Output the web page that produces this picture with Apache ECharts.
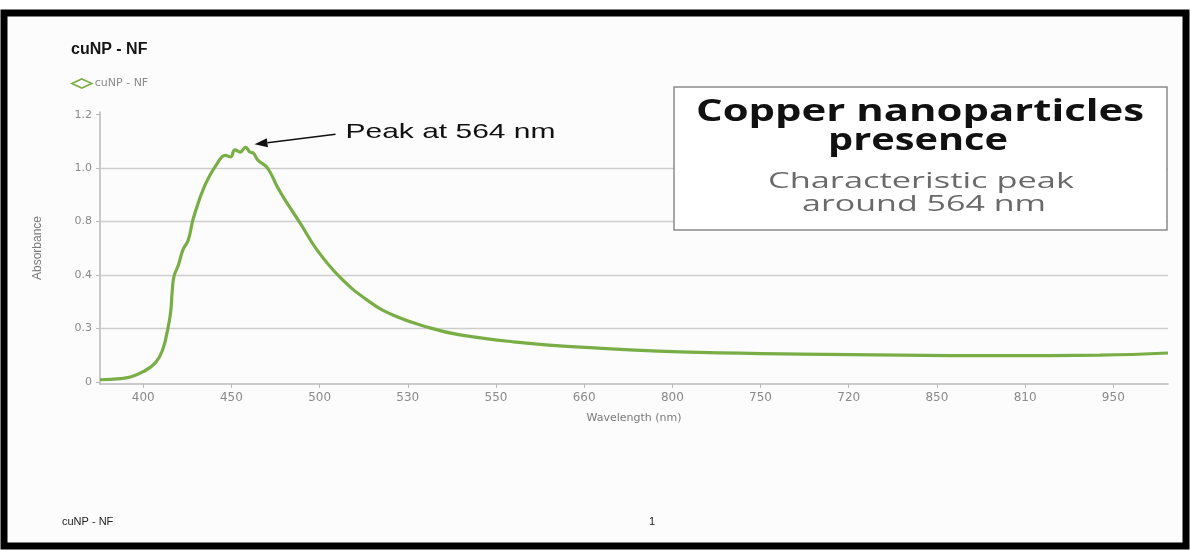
<!DOCTYPE html>
<html>
<head>
<meta charset="utf-8">
<title>cuNP - NF</title>
<script src="https://cdn.jsdelivr.net/npm/echarts@6/dist/echarts.min.js"></script>
<style>
  html, body { margin: 0; padding: 0; background: #ffffff; }
  #chart { width: 1190px; height: 550px; }
</style>
</head>
<body>
<div id="chart"></div>
<script>
// Wavelength tick labels, one per labelled slot on the x axis
const xLabels = ['400', '450', '500', '530', '550', '660', '800', '750', '720', '850', '810', '950'];
// Absorbance tick labels, one per gridline step on the y axis
const yLabels = ['0', '0.3', '0.4', '0.8', '1.0', '1.2'];

// Spectrum samples: position along the x slots and height in gridline steps
const samplePos = [
  -0.49, -0.26, -0.15, 0.00, 0.14, 0.22, 0.27, 0.31, 0.33, 0.35,
  0.40, 0.45, 0.51, 0.57, 0.70, 0.84, 0.93, 0.99, 1.04, 1.10,
  1.16, 1.21, 1.25, 1.30, 1.41, 1.52, 1.61, 1.78, 1.97, 2.23,
  2.54, 2.83, 3.25, 3.59, 4.20, 4.96, 6.09, 7.45, 8.58, 9.72,
  10.85, 11.62
];
const sampleLevel = [
  0.04, 0.06, 0.09, 0.19, 0.36, 0.60, 0.92, 1.29, 1.72, 1.98,
  2.19, 2.47, 2.65, 3.07, 3.68, 4.09, 4.24, 4.21, 4.34, 4.30,
  4.39, 4.30, 4.28, 4.15, 4.00, 3.65, 3.40, 2.97, 2.47, 1.96,
  1.53, 1.25, 1.01, 0.88, 0.75, 0.65, 0.56, 0.52, 0.50, 0.49,
  0.50, 0.54
];

const seriesName = 'cuNP - NF';
const peakText = 'Peak at 564 nm';
const boxTitle = ['Copper nanoparticles', 'presence'];
const boxNote = ['Characteristic peak', 'around 564 nm'];

const lineColor = '#79ad46';
const tickValuesX = xLabels.map((_, i) => i);
const tickValuesY = yLabels.map((_, i) => i);
const curve = samplePos.map((p, i) => [p, sampleLevel[i]]);

// index of the highest sample, used to anchor the peak callout
let peakIdx = 0;
sampleLevel.forEach((v, i) => { if (v > sampleLevel[peakIdx]) peakIdx = i; });

// horizontal stretch so a text line spans the given width
const measureCtx = document.createElement('canvas').getContext('2d');
function stretchFor(text, font, width) {
  measureCtx.font = font;
  return width / measureCtx.measureText(text).width;
}

const chart = echarts.init(document.getElementById('chart'), null, { renderer: 'canvas' });

chart.setOption({
  backgroundColor: '#ffffff',
  animation: false,
  title: {
    text: seriesName,
    left: 66,
    top: 37,
    textStyle: { fontFamily: 'Liberation Sans', fontWeight: 'bold', fontSize: 16, color: '#151515' }
  },
  legend: {
    left: 66,
    top: 73,
    itemWidth: 20,
    itemHeight: 9,
    itemGap: 4,
    icon: 'diamond',
    itemStyle: { color: '#ffffff', borderColor: lineColor, borderWidth: 1.6 },
    textStyle: { fontFamily: 'DejaVu Sans', fontSize: 11, color: '#8a8a8a', padding: [0, 0, 0, -2] },
    data: [seriesName]
  },
  grid: { left: 100, right: 22, top: 112, bottom: 166, containLabel: false },
  xAxis: {
    type: 'value',
    min: -0.49,
    max: 11.62,
    name: 'Wavelength (nm)',
    nameLocation: 'middle',
    nameGap: 29,
    nameTextStyle: { fontFamily: 'DejaVu Sans', fontSize: 11, color: '#7a7a7a' },
    axisLine: { show: true, onZero: false, lineStyle: { color: '#b9b9b9', width: 1.5 } },
    axisTick: { show: true, length: 4, customValues: tickValuesX, lineStyle: { color: '#b9b9b9' } },
    axisLabel: {
      customValues: tickValuesX,
      formatter: v => xLabels[Math.round(v)],
      fontFamily: 'DejaVu Sans', fontSize: 12, color: '#8a8a8a', margin: 8
    },
    splitLine: { show: false }
  },
  yAxis: {
    type: 'value',
    min: -0.04,
    max: 5.05,
    name: 'Absorbance',
    nameLocation: 'middle',
    nameRotate: 90,
    nameGap: 56,
    nameTextStyle: { fontFamily: 'Liberation Sans Narrow, Liberation Sans', fontSize: 12, color: '#7a7a7a' },
    axisLine: { show: true, onZero: false, lineStyle: { color: '#b9b9b9', width: 1.5 } },
    axisTick: { show: true, length: 4, customValues: tickValuesY, lineStyle: { color: '#b9b9b9' } },
    axisLabel: {
      customValues: tickValuesY,
      formatter: v => yLabels[Math.round(v)],
      fontFamily: 'DejaVu Sans', fontSize: 11, color: '#8a8a8a', margin: 8
    },
    splitLine: { show: false }
  },
  series: [{
    name: seriesName,
    type: 'line',
    data: curve,
    showSymbol: false,
    symbol: 'none',
    smooth: 0.45,
    lineStyle: { color: lineColor, width: 3.2 },
    itemStyle: { color: lineColor },
    z: 3,
    markLine: {
      silent: true,
      symbol: 'none',
      z: 1,
      label: { show: false },
      lineStyle: { color: '#cdcdcd', width: 1.3, type: 'solid' },
      data: tickValuesY.slice(1, 5).map(v => ({ yAxis: v }))
    }
  }]
});

// Callouts placed from the drawn curve
const peakPx = chart.convertToPixel({ gridIndex: 0 }, [samplePos[peakIdx], sampleLevel[peakIdx]]);
const head = [peakPx[0] + 9, peakPx[1] - 3];
const tail = [peakPx[0] + 90, peakPx[1] - 13];
const ang = Math.atan2(head[1] - tail[1], head[0] - tail[0]);
const hl = 13, hw = 4.5;
const base = [head[0] - hl * Math.cos(ang), head[1] - hl * Math.sin(ang)];
const arrowHead = [
  head,
  [base[0] + hw * Math.sin(ang), base[1] - hw * Math.cos(ang)],
  [base[0] - hw * Math.sin(ang), base[1] + hw * Math.cos(ang)]
];

const peakFont = '21px "Liberation Sans"';
const titleFont = 'bold 31px "Open Sans"';
const noteFont = '22px "Open Sans"';

function stretchedText(text, font, color, cx, cy, width) {
  return {
    type: 'text',
    x: cx, y: cy,
    scaleX: stretchFor(text, font, width),
    z: 12,
    style: { text: text, x: 0, y: 0, font: font, fill: color, textAlign: 'center', textVerticalAlign: 'middle' }
  };
}

chart.setOption({
  graphic: [
    // page frame
    { type: 'rect', z: -5, shape: { x: 4, y: 13, width: 1182, height: 533 }, style: { fill: '#fcfcfc' } },
    { type: 'rect', z: 20, shape: { x: 4, y: 13, width: 1182, height: 533 }, style: { fill: 'none', stroke: '#000000', lineWidth: 7 } },
    // peak arrow and label
    { type: 'line', z: 12, shape: { x1: tail[0], y1: tail[1], x2: base[0], y2: base[1] }, style: { stroke: '#111111', lineWidth: 1.6 } },
    { type: 'polygon', z: 12, shape: { points: arrowHead }, style: { fill: '#111111' } },
    stretchedText(peakText, peakFont, '#111111', tail[0] + 10 + 105, tail[1] - 2, 210),
    // note box
    { type: 'rect', z: 10, shape: { x: 674, y: 87, width: 493, height: 143 }, style: { fill: '#ffffff', stroke: '#8a8a8a', lineWidth: 1.5 } },
    stretchedText(boxTitle[0], titleFont, '#111111', 920, 112, 448),
    stretchedText(boxTitle[1], titleFont, '#111111', 918, 141, 180),
    stretchedText(boxNote[0], noteFont, '#6a6a6a', 921, 182, 306),
    stretchedText(boxNote[1], noteFont, '#6a6a6a', 924, 205, 244),
    // footer
    { type: 'text', z: 12, x: 62, y: 522, style: { text: seriesName, font: '11px "Liberation Sans"', fill: '#222222', textVerticalAlign: 'middle' } },
    { type: 'text', z: 12, x: 652, y: 522, style: { text: '1', font: '11px "Liberation Sans"', fill: '#222222', textAlign: 'center', textVerticalAlign: 'middle' } }
  ]
});
</script>
</body>
</html>
